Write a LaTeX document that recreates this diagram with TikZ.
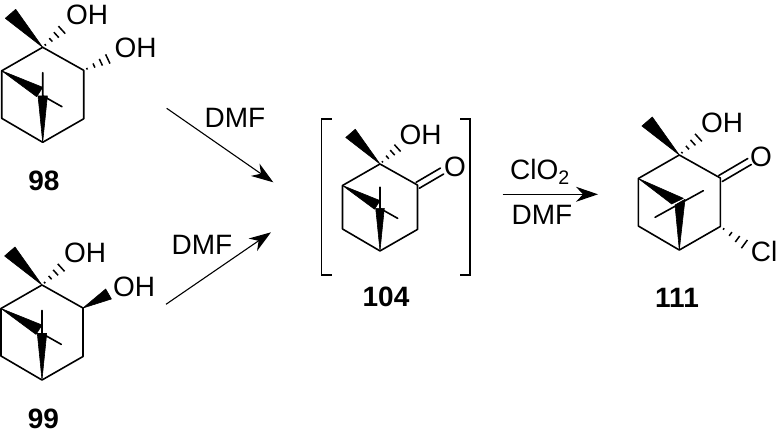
\documentclass[tikz,border=0pt]{standalone}
\usepackage{fontspec}
\setmainfont{Liberation Sans}
\usetikzlibrary{arrows.meta,calc}

% ring, methyl and the two bridge wedges, origin on the top carbon
\newcommand{\pinanering}{
    \coordinate (top) at (0,0);
    \coordinate (ru)  at (41,23);
    \coordinate (rl)  at (41,71.5);
    \coordinate (bot) at (0,95);
    \coordinate (ll)  at (-41,71);
    \coordinate (lu)  at (-41,23.5);
    \coordinate (ctr) at (0,48.5);
    \draw[bond] (top) -- (ru) -- (rl) -- (bot) -- (ll) -- (lu) -- cycle;
    \fill[wedge] (top) -- (-37.4,-29) -- (-27,-38) -- cycle;
}
\newcommand{\hashbond}[2]{
    \foreach \t/\w in {0.12/0.9,0.37/2.3,0.62/3.7,0.87/5.1}
        \draw[hash] ($(#1)!\t!(#2)!\w pt!90:(#2)$) -- ($(#1)!\t!(#2)!\w pt!-90:(#2)$);
}

\begin{document}
\begin{tikzpicture}[x=1pt,y=-1pt]
    \tikzstyle{bond}=[line width=1.6pt,line join=round,line cap=round]
    \tikzstyle{wedge}=[fill=black,draw=black,line width=0.6pt,line join=round]
    \tikzstyle{hash}=[line width=1.5pt]
    \tikzstyle{atom}=[inner sep=0pt,font=\fontsize{28}{28}\selectfont]
    \tikzstyle{number}=[inner sep=0pt,font=\fontsize{28}{28}\selectfont\bfseries]
    \tikzstyle{rxn}=[draw=black,line width=1.1pt,-{Stealth[length=22pt,width=15pt,inset=7pt]}]
    \useasboundingbox (0,0) rectangle (779,436);

    % 98
    \begin{scope}[shift={(42.7,47.3)},name prefix=a-]
        \pinanering
        \fill[wedge] (lu) -- (-6,49.4) -- (0,40) -- cycle;
        \fill[wedge] (bot) -- (-4.7,48.5) -- (4.7,48.5) -- cycle;
        \draw[bond] (0,25.4) -- (ctr)
                    (ctr)    -- (19.3,59.4);
        \coordinate (ha) at (22,-20);
        \coordinate (hb) at (68.7,10);
        \hashbond{top}{ha}
        \hashbond{ru}{hb}
    \end{scope}

    % 99
    \begin{scope}[shift={(42,285)},name prefix=b-]
        \pinanering
        \fill[wedge] (lu) -- (-6,49.4) -- (0,40) -- cycle;
        \fill[wedge] (bot) -- (-4.7,48.5) -- (4.7,48.5) -- cycle;
        \draw[bond] (0,25.4) -- (ctr)
                    (ctr)    -- (19.3,59.4);
        \coordinate (ha) at (22,-20);
        \hashbond{top}{ha}
        \fill[wedge] (ru) -- (63.7,4) -- (69.4,14) -- cycle;
    \end{scope}

    % 104
    \begin{scope}[shift={(380,164)},scale=0.915,name prefix=c-]
        \pinanering
        \fill[wedge] (lu) -- (-6,49.4) -- (0,40) -- cycle;
        \fill[wedge] (bot) -- (-4.7,48.5) -- (4.7,48.5) -- cycle;
        \draw[bond] (0,25.4) -- (ctr)
                    (ctr)    -- (19.3,59.4);
        \coordinate (ha) at (22,-20);
        \hashbond{top}{ha}
        \draw[bond] (39.5,20) -- (66,4.5)
                    (43,26.5) -- (69.5,11);
    \end{scope}

    % 111
    \begin{scope}[shift={(679.3,155)},name prefix=d-]
        \pinanering
        \fill[wedge] (lu) -- (-7.6,49) -- (4,43.3) -- cycle;
        \fill[wedge] (bot) -- (-4.3,50) -- (5.7,44.3) -- cycle;
        \draw[bond] (-24.3,62.3) -- (24,35.7);
        \coordinate (ha) at (22,-20);
        \coordinate (hc) at (68.7,91.7);
        \hashbond{top}{ha}
        \hashbond{rl}{hc}
        \draw[bond] (39.5,20.5) -- (68.5,3.5)
                    (43,26.5)   -- (72,9.5);
    \end{scope}

    \node[atom] (oh98a) at (87,15)    {OH};
    \node[atom] (oh98b) at (135.5,48) {OH};
    \node[atom] (oh99a) at (85,253)   {OH};
    \node[atom] (oh99b) at (134,287)  {OH};
    \node[atom] (oh104) at (420.7,135) {OH};
    \node[atom] (o104)  at (455,166.5) {O};
    \node[atom] (oh111) at (722,123)  {OH};
    \node[atom] (o111)  at (761,156.5) {O};
    \node[atom] (cl111) at (764,251.5) {Cl};

    \node[number] (n98)  at (44,180.5)  {98};
    \node[number] (n99)  at (43.5,418.5) {99};
    \node[number] (n104) at (386,297)   {104};
    \node[number] (n111) at (677,298)   {111};

    % arrows
    \coordinate (ua) at (166.7,108.3);
    \coordinate (ub) at (273.3,182.3);
    \coordinate (la) at (166,304.3);
    \coordinate (lb) at (271,232.3);
    \coordinate (ra) at (502.7,194.3);
    \coordinate (rb) at (598,194.3);
    \draw[rxn] (ua) -- (ub);
    \draw[rxn] (la) -- (lb);
    \draw[rxn] (ra) -- (rb);

    \node[atom] (dmfa) at (235,118) {DMF};
    \node[atom] (dmfb) at (202,245) {DMF};
    \node[atom,anchor=base west] (clo) at (510,179.5) {ClO\textsubscript{2}};
    \node[atom] (dmfc) at (542,215) {DMF};

    % brackets
    \draw[line width=1.4pt] (331.7,119) -- (321.7,119) -- (321.7,275) -- (331.7,275)
                            (460,119)   -- (470,119)   -- (470,275)   -- (460,275);
\end{tikzpicture}
\end{document}
